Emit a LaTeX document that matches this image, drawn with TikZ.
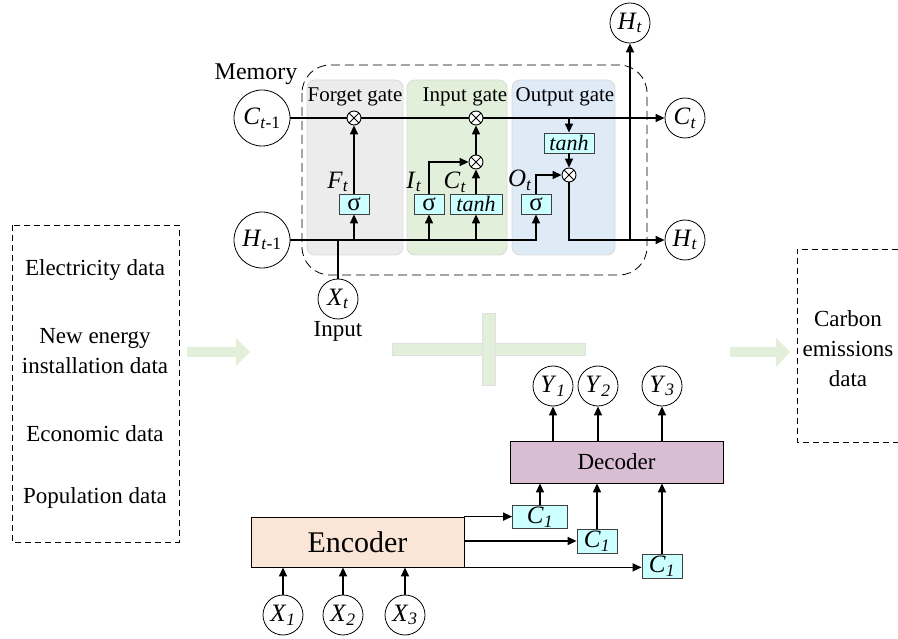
\documentclass[tikz,border=0pt]{standalone}
\usepackage{fontspec}
\setmainfont{Liberation Serif}
\usetikzlibrary{arrows.meta,positioning}

\definecolor{forgetgray}{RGB}{236,236,236}
\definecolor{inputgreen}{RGB}{226,239,218}
\definecolor{outputblue}{RGB}{222,234,246}
\definecolor{boxcyan}{RGB}{204,255,255}
\definecolor{encpeach}{RGB}{251,229,214}
\definecolor{decpurple}{RGB}{216,189,211}

\newcommand{\sym}[2]{\textit{#1}\textsubscript{#2}}

\tikzset{
	var/.style={draw, circle, minimum size=40pt, inner sep=0pt, line width=0.8pt, font=\fontsize{25}{27}\selectfont},
	bigvar/.style={var, minimum size=56pt},
	gatebox/.style={draw=black!75, fill=boxcyan, minimum height=20pt, inner sep=1pt, line width=0.8pt, font=\fontsize{22}{22}\selectfont},
	mult/.style={draw, circle, fill=white, minimum size=14pt, inner sep=0pt, line width=0.9pt,
		path picture={\draw[line width=0.9pt] (path picture bounding box.north east) -- (path picture bounding box.south west)
			(path picture bounding box.north west) -- (path picture bounding box.south east);}},
	flow/.style={-{Triangle[length=9pt,width=8pt]}, line width=1.5pt},
	panel/.style={draw=black!15, line width=0.8pt, rounded corners=8pt},
	frame/.style={draw, line width=0.8pt, dash pattern=on 6pt off 4pt},
	gatelabel/.style={inner sep=0pt, font=\fontsize{21}{22}\selectfont},
	siglabel/.style={inner sep=0pt, font=\fontsize{25}{27}\selectfont},
}

\begin{document}
\begin{tikzpicture}[x=1pt, y=-1pt, font=\fontsize{23}{30}\selectfont]
	\useasboundingbox (0,0) rectangle (898,639);
	
	% LSTM
	\fill[panel, fill=forgetgray] (307,80) rectangle (403,255);		% Forget
	\fill[panel, fill=inputgreen] (407,80) rectangle (507,255);		% Input
	\fill[panel, fill=outputblue] (512,80) rectangle (615,255);		% Output
	\draw[frame, dash pattern=on 9pt off 5pt, rounded corners=28pt] (302,65) rectangle (647,275);
	\node[font=\fontsize{24}{26}\selectfont] at (256,74) {Memory};
	\node[gatelabel] at (355,97) {Forget gate};
	\node[gatelabel] at (465,97) {Input gate};
	\node[gatelabel] at (565,97) {Output gate};
	
	\node[bigvar] (cprev) at (262,118) {\sym{C}{\textit{t}-1}};
	\node[bigvar] (hprev) at (262,240) {\sym{H}{\textit{t}-1}};
	\node[var] (xt) at (338,299) {\sym{X}{\textit{t}}};
	\node[below=-1pt of xt] (inlabel) {Input};
	\node[var] (htop) at (630,23) {\sym{H}{\textit{t}}};
	\node[var] (ct) at (685,118) {\sym{C}{\textit{t}}};
	\node[var] (hout) at (685,240) {\sym{H}{\textit{t}}};
	
	\draw[flow] (cprev) -- (ct);						% Zellzustand
	\node[mult] (mf) at (354,118) {};
	\node[mult] (mi) at (476,118) {};
	\node[mult] (mc) at (476,162) {};
	\node[mult] (mo) at (569,175) {};
	
	\node[gatebox, minimum width=30pt, font=\fontsize{25}{25}\selectfont] (sf) at (354,204) {σ};
	\node[gatebox, minimum width=30pt, font=\fontsize{25}{25}\selectfont] (si) at (429,204) {σ};
	\node[gatebox, minimum width=52pt] (ti) at (476,204) {\textit{tanh}};
	\node[gatebox, minimum width=30pt, font=\fontsize{25}{25}\selectfont] (so) at (536,204) {σ};
	\node[gatebox, minimum width=50pt] (to) at (569,143) {\textit{tanh}};
	
	\draw[flow] (hprev) -| (so);						% H-Leitung
	\draw[line width=1.5pt] (xt) -- (xt |- hprev);
	\draw[flow] (sf |- hprev) -- (sf);
	\draw[flow] (si |- hprev) -- (si);
	\draw[flow] (ti |- hprev) -- (ti);
	\draw[flow] (sf) -- (mf);
	\draw[flow] (si) |- (mc);
	\draw[flow] (ti) -- (mc);
	\draw[flow] (mc) -- (mi);
	\draw[flow] (to |- cprev) -- (to);
	\draw[flow] (to) -- (mo);
	\draw[flow] (so) |- (mo);
	\draw[flow] (mo) |- (hout);
	\draw[flow] (htop |- hout) -- (htop);
	
	\node[siglabel] (ft) at (338,182) {\sym{F}{\textit{t}}};
	\node[siglabel] (it) at (414,182) {\sym{I}{\textit{t}}};
	\node[siglabel] (ctl) at (455,182) {\sym{C}{\textit{t}}};
	\node[siglabel] (ot) at (520,180) {\sym{O}{\textit{t}}};
	
	% Eingangsdaten
	\draw[frame] (12,225) rectangle (179,542);
	\node at (95,270) {Electricity data};
	\node[align=center] at (95,351) {New energy\\installation data};
	\node at (95,434) {Economic data};
	\node at (95,498) {Population data};
	\fill[inputgreen] (187,347) -- (236,347) -- (236,338) -- (250,352) -- (236,366) -- (236,357) -- (187,357) -- cycle;
	
	% Plus
	\filldraw[fill=inputgreen, draw=black!12] (392,343) rectangle (585,355);
	\filldraw[fill=inputgreen, draw=black!12] (482,313) rectangle (495,385);
	
	% Ausgang
	\fill[inputgreen] (730,347) -- (776,347) -- (776,338) -- (790,352) -- (776,367) -- (776,357) -- (730,357) -- cycle;
	\draw[frame] (898,249) -- (797,249) -- (797,442) -- (898,442);
	\node[align=center] at (848,349) {Carbon\\emissions\\data};
	
	% Encoder-Decoder
	\node[draw, fill=encpeach, line width=0.8pt, minimum width=213pt, minimum height=50pt, font=\fontsize{30}{32}\selectfont] (enc) at (357.5,542) {Encoder};
	\node[draw, fill=decpurple, line width=0.8pt, minimum width=213pt, minimum height=42pt] (dec) at (616.5,462) {Decoder};
	
	\node[gatebox, minimum width=55pt, minimum height=22pt, font=\fontsize{25}{25}\selectfont] (ca) at (540,517) {\sym{C}{\textit{1}}};
	\node[gatebox, minimum width=40pt, minimum height=24pt, font=\fontsize{25}{25}\selectfont] (cb) at (597,541) {\sym{C}{\textit{1}}};
	\node[gatebox, minimum width=40pt, minimum height=24pt, font=\fontsize{25}{25}\selectfont] (cc) at (662,566) {\sym{C}{\textit{1}}};
	
	\node[var] (ya) at (553,386) {\sym{Y}{\textit{1}}};
	\node[var] (yb) at (598,386) {\sym{Y}{\textit{2}}};
	\node[var] (yc) at (662,386) {\sym{Y}{\textit{3}}};
	\node[var] (xa) at (283,615) {\sym{X}{\textit{1}}};
	\node[var] (xb) at (343,615) {\sym{X}{\textit{2}}};
	\node[var] (xc) at (405,615) {\sym{X}{\textit{3}}};
	
	\draw[flow] (dec.north -| ya) -- (ya);
	\draw[flow] (dec.north -| yb) -- (yb);
	\draw[flow] (dec.north -| yc) -- (yc);
	\draw[flow] (ca) -- (ca |- dec.south);
	\draw[flow] (cb) -- (cb |- dec.south);
	\draw[flow] (cc) -- (cc |- dec.south);
	\draw[flow] (enc.north east) -- (ca.west |- enc.north east);
	\draw[flow] (enc.east |- cb) -- (cb);
	\draw[flow] (enc.south east) -- (cc.west |- enc.south east);
	\draw[flow] (xa) -- (xa |- enc.south);
	\draw[flow] (xb) -- (xb |- enc.south);
	\draw[flow] (xc) -- (xc |- enc.south);
\end{tikzpicture}
\end{document}
